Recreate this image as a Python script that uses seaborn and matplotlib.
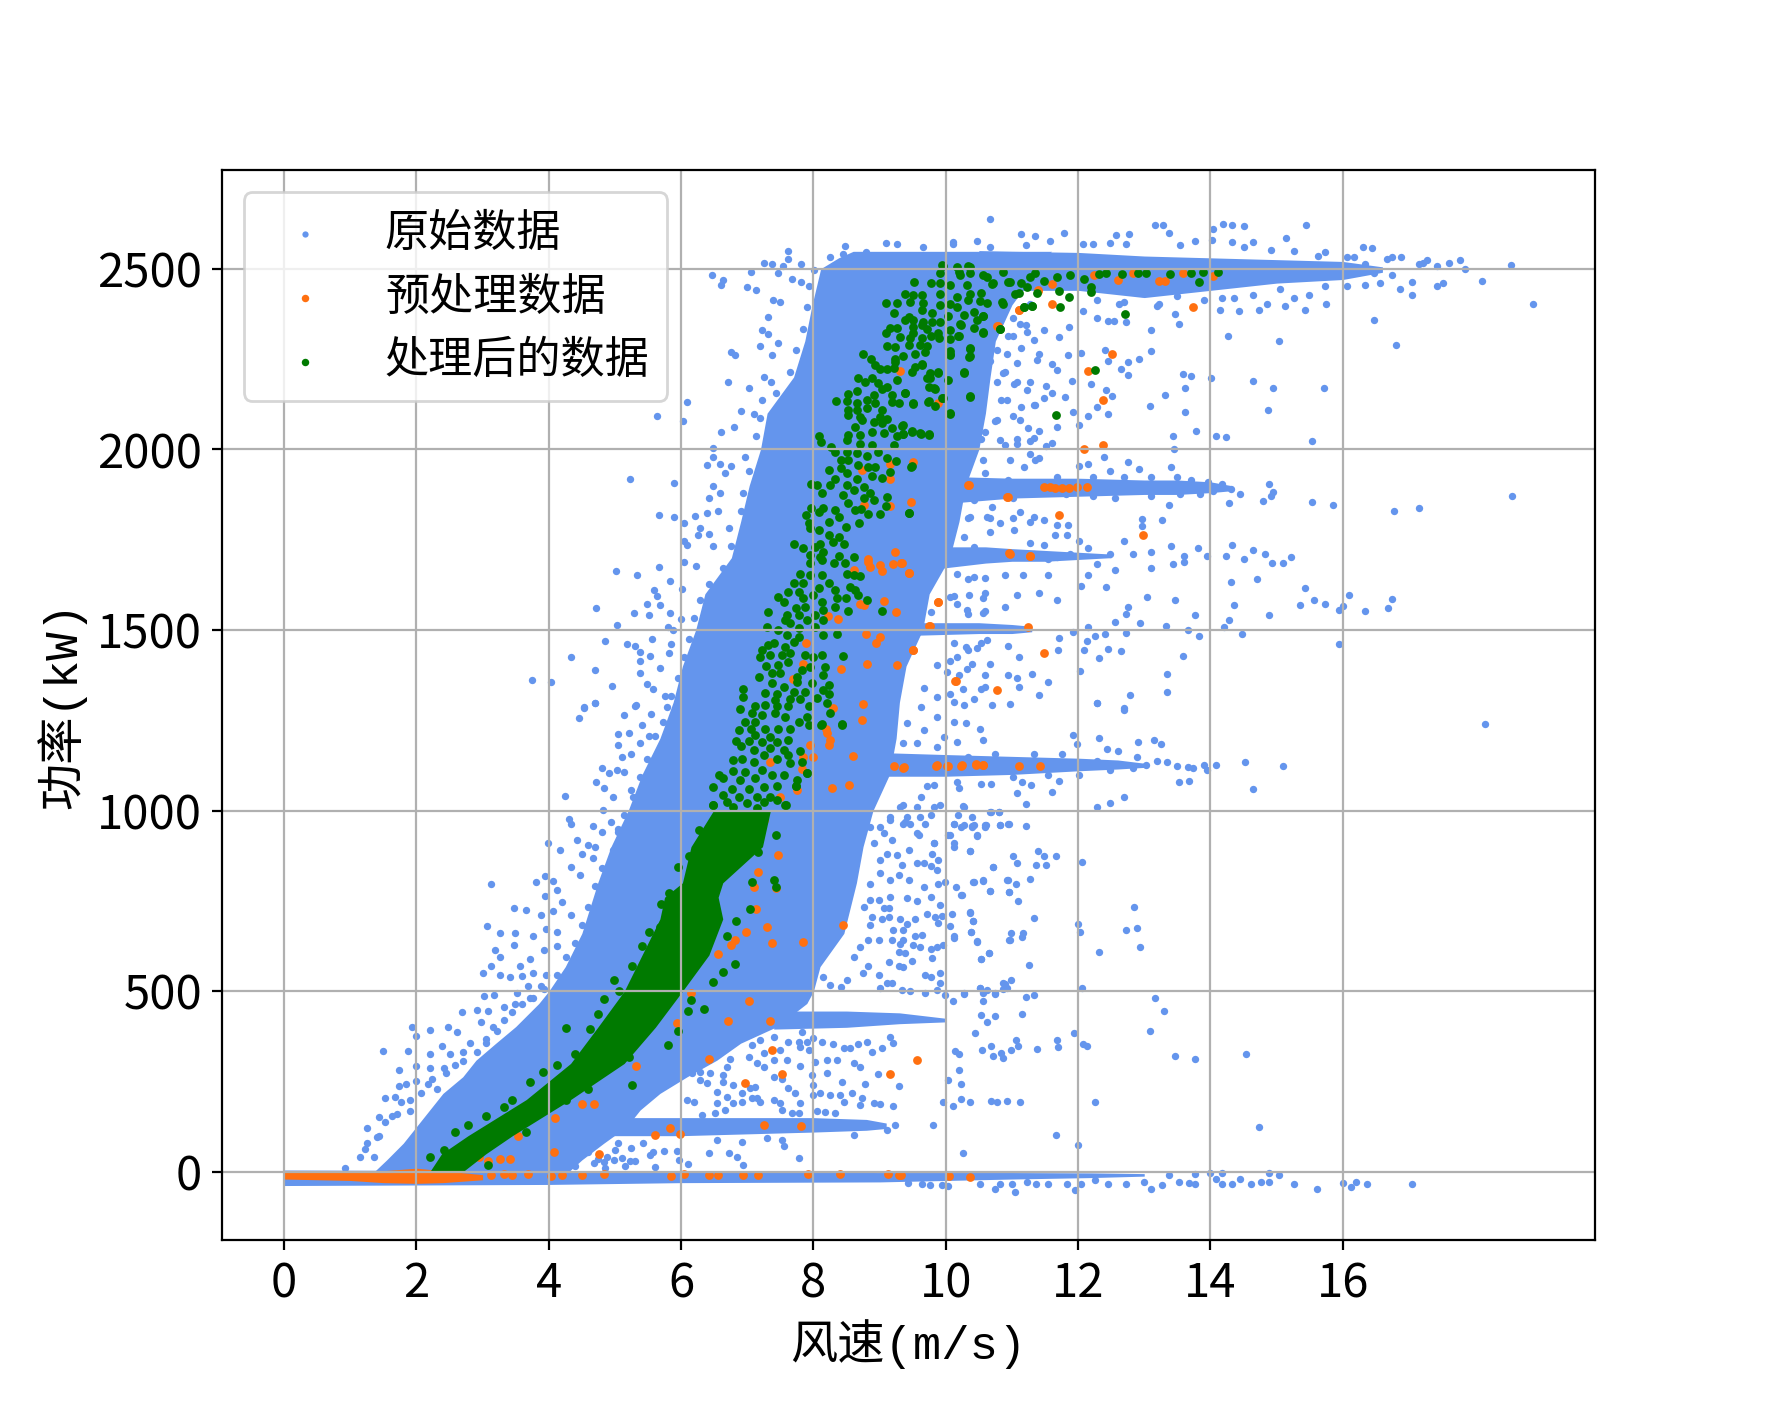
import matplotlib
matplotlib.use('Agg')
import matplotlib.pyplot as plt
import pandas as pd
import seaborn as sns

plt.rcParams['font.family'] = ['Noto Sans CJK SC', 'DejaVu Sans']

# where the cloud is solid single points can't be read, so it is kept as an envelope
core_power = [0, 33, 79, 125, 171, 217, 263, 309, 356, 402, 466, 500, 568, 660, 800, 900, 1000, 1100, 1200, 1300,
              1400, 1500, 1600, 1700, 1800, 1900, 2000, 2100, 2200, 2300, 2400, 2500, 2530, 2548]
core_left = [1.36, 1.55, 1.8, 2.0, 2.2, 2.4, 2.7, 2.9, 3.2, 3.5, 3.85, 4.0, 4.25, 4.5, 4.74, 4.94, 5.2, 5.41, 5.68,
             5.88, 6.02, 6.22, 6.36, 6.76, 6.9, 7.03, 7.2, 7.3, 7.7, 7.87, 7.98, 8.11, 8.38, 8.6]
core_right = [4.3, 4.5, 4.83, 5.18, 5.38, 5.68, 6.09, 6.54, 6.9, 7.45, 7.9, 8.0, 8.1, 8.46, 8.65, 8.75, 8.9, 9.15,
              9.25, 9.3, 9.4, 9.65, 9.75, 10.06, 10.2, 10.3, 10.5, 10.6, 10.67, 10.75, 11.0, 11.4, 11.5, 11.6]

# horizontal stripes: wind, upper power, lower power
rated_wind = [10.5, 11, 12, 13, 14, 15, 16, 16.6]
rated_up = [2550, 2548, 2545, 2535, 2530, 2525, 2520, 2505]
rated_low = [2400, 2440, 2440, 2420, 2440, 2460, 2470, 2490]
zero_wind = [0, 4, 6, 9, 11, 12.2, 13]
zero_up = [5, 3, 0, -2, -2, -3, -5]
zero_low = [-38, -35, -30, -28, -20, -16, -12]
band1890_wind = [10.0, 11, 12, 13, 13.5, 14, 14.3]
band1890_up = [1925, 1920, 1920, 1915, 1915, 1910, 1900]
band1890_low = [1850, 1865, 1870, 1875, 1875, 1880, 1885]
band1700_wind = [9.9, 10.6, 11, 11.5, 12, 12.5]
band1700_up = [1730, 1730, 1725, 1720, 1715, 1710]
band1700_low = [1670, 1685, 1690, 1690, 1695, 1700]
band1500_wind = [9.5, 10.5, 11, 11.3]
band1500_up = [1520, 1520, 1515, 1510]
band1500_low = [1485, 1490, 1490, 1495]
band1130_wind = [9.1, 10, 11, 12, 12.6, 13.05]
band1130_up = [1160, 1155, 1150, 1145, 1140, 1130]
band1130_low = [1095, 1095, 1100, 1110, 1115, 1120]
band420_wind = [7.4, 8.5, 9.3, 10]
band420_up = [445, 445, 440, 425]
band420_low = [395, 400, 410, 415]
band130_wind = [4.9, 6, 7, 8, 8.8, 9.1]
band130_up = [150, 150, 150, 150, 145, 135]
band130_low = [100, 100, 105, 110, 115, 120]

# green band, solid up to about 1000 kW
green_power = [0, 50, 100, 200, 300, 400, 500, 600, 700, 760, 800, 900, 1000]
green_left = [2.2, 2.38, 2.78, 3.66, 4.33, 4.74, 5.14, 5.41, 5.68, 5.75, 6.02, 6.15, 6.49]
green_right = [2.7, 3.05, 3.45, 4.33, 5.14, 5.61, 6.02, 6.42, 6.63, 6.56, 6.63, 7.23, 7.35]
# orange stripe under 0 kW
orange_wind = [0, 1, 1.5, 2, 2.4, 3.0]
orange_up = [0, 0, 3, 10, 3, -8]
orange_low = [-20, -24, -30, -32, -30, -22]

blue_top = [(10.67,2637),(11.14,2596),(11.35,2591),(11.78,2599),(13.16,2620),(13.29,2620),(13.38,2599),(12.58,2593),
    (12.77,2595),(14.04,2609),(14.19,2623),(14.33,2620),(14.51,2617),(15.45,2622),(15.15,2586),(13.76,2577),(14.02,2579),
    (14.33,2573),(14.64,2575),(16.3,2559),(16.44,2556),(16.74,2532),(17.27,2524),(17.77,2524),(17.6,2517),(17.85,2499),
    (18.55,2509),(18.1,2465),(18.87,2401),(16.48,2357),(16.8,2289),(15.03,2300),(14.27,2314),(14.65,2189),(14.95,2171),
    (15.71,2171),(14.87,2109),(13.61,2104),(13.08,2120),(13.32,2151),(13.58,2208),(13.7,2203),(14.01,2196),(13.62,2170),
    (13.43,2038),(13.79,2052),(14.08,2036),(14.24,2035),(15.53,2022),(13.45,2000),(14.89,1904),(14.95,1881),(14.92,1870),
    (14.45,1877),(14.28,1850),(14.79,1857),(15.53,1853),(15.86,1846),(16.77,1828),(17.16,1838),(18.56,1870),(13.38,1845),
    (13.27,1803),(12.96,1807),(12.96,1789),(13.82,1728),(13.95,1706),(14.24,1705),(14.33,1734),(14.51,1696),(14.65,1721),
    (14.82,1711),(14.93,1685),(15.1,1685),(15.22,1701),(14.31,1632),(14.7,1641),(15.43,1617),(15.56,1583),(16.1,1597),
    (15.73,1573),(15.36,1569),(16.0,1566),(15.95,1555),(16.34,1553),(16.69,1561),(16.74,1586),(14.89,1542),(14.35,1568),
    (14.28,1527),(14.2,1507),(14.48,1490),(13.83,1484),(13.66,1500),(13.33,1510),(12.94,1519),(13.77,1541),(13.47,1584),
    (13.04,1591),(12.76,1563),(12.73,1543),(12.56,1521),(15.95,1462),(13.59,1429),(13.35,1378),(13.35,1329),(12.78,1321),
    (12.29,1299),(12.7,1284),(12.03,1387),(12.31,1421),(12.65,1442),(12.46,1448),(12.09,1445),(12.13,1470),(12.72,1491),
    (12.41,1490),(12.26,1484)]
blue_rated_edge = [(11.28,1986),(11.41,1976),(12.02,1954),(12.15,1958),(12.49,1939),(12.76,1965),(12.92,1946),(13.4,1951),
    (12.39,1980),(11.61,2018),(11.51,2008),(11.28,2023),(11.68,2062),(11.41,2052),(11.07,2028),(10.9,2013),(12.02,2067),
    (12.15,2092),(11.92,2102),(12.46,2099),(12.29,2117),(12.52,2148),(12.42,2164),(11.8,2144),(11.49,2141),(11.34,2122),
    (11.14,2117),(11.01,2092),(12.19,2181),(11.91,2188),(11.61,2156),(11.51,2176),(11.28,2186),(11.07,2186),(10.9,2215),
    (11.68,2220),(11.85,2260),(12.05,2267),(11.61,2235),(11.41,2265),(11.14,2280),(12.41,2275),(12.65,2223),(12.76,2207),
    (12.75,2243),(12.92,2250),(12.46,2245),(13.1,2272),(13.1,2329),(11.86,2339),(11.71,2312),(11.48,2329),(11.21,2344),
    (11.01,2314),(12.46,2356),(12.54,2354),(12.73,2351),(13.52,2347),(13.47,2374),(12.62,2403),(12.29,2364),(12.08,2383),
    (13.2,2398),(14.15,2386),(14.44,2383),(14.73,2386),(15.13,2396),(15.43,2386),(15.74,2403),(14.85,2403),(14.35,2418),
    (15.26,2418),(17.04,2428),(16.86,2445),(17.42,2453),(17.52,2460),(17.04,2464),(16.57,2460),(16.34,2455),(16.74,2482),
    (16.24,2492),(16.47,2487),(17.15,2512),(17.42,2507),(16.67,2527),(16.17,2532),(15.73,2546),(15.26,2548),(15.62,2535),
    (14.92,2551),(14.51,2561),(13.54,2566),(12.73,2569),(12.49,2571),(12.22,2569),(12.07,2569),(11.58,2576),(10.47,2576),
    (10.11,2569)]
blue_mid_right = [(10.77,2275),(10.92,2265),(11.08,2238),(10.87,2210),(11.33,2302),(11.23,2325),(11.13,2348),(11.38,2247),
    (11.03,2182),(11.23,2164),(11.35,2122),(11.13,2081),(11.25,2058),(10.92,2136),(10.77,2081),(10.82,2025),(11.08,2016),
    (11.33,2030),(10.57,1970),(10.97,1970),(11.18,1952),(11.35,1970),(10.42,1859),(10.62,1813),(10.82,1795),(10.17,1841),
    (10.37,1813),(11.03,1776),(10.27,1758),(10.42,1730),(10.67,1772),(11.33,1813),(11.13,1827),(12.15,1726),(12.49,1711),
    (12.83,1711),(13.1,1716),(13.4,1731),(12.29,1682),(12.56,1667),(13.1,1672),(13.43,1682),(13.6,1706),(13.6,1687),
    (12.69,1746),(12.02,1746),(11.88,1711),(11.55,1697),(11.68,1702),(11.34,1711),(11.48,1736),(11.28,1741),(10.9,1652),
    (11.17,1652),(11.55,1652),(12.15,1652),(12.05,1622),(12.42,1620),(11.68,1791),(11.85,1791),(11.65,1763),(11.83,1763),
    (11.48,1805),(11.28,1800),(11.01,1810),(10.67,1810),(10.33,1810),(10.33,1642),(10.6,1603),(10.9,1563),(11.07,1598),
    (11.41,1603),(11.68,1583),(10.13,1593),(10.33,1543),(10.6,1553),(10.33,1445),(10.53,1464),(10.94,1455),(11.11,1425),
    (10.4,1405),(10.67,1405),(10.06,1415),(10.2,1375),(10.6,1375),(10.94,1375),(11.07,1366),(11.31,1379),(11.55,1356),
    (10.26,1336),(10.53,1336),(11.11,1341),(11.41,1321),(10.7,1292),(10.97,1294),(10.13,1301),(11.69,1445),(11.71,1479),
    (11.92,1494),(12.15,1509),(10.07,1592),(10.17,1573),(10.32,1555),(10.57,1546),(10.42,1647),(10.6,1643),(10.17,1656),
    (10.35,1596),(10.57,1587),(9.77,1550),(10.12,1463),(10.3,1453),(10.47,1449),(10.62,1472),(10.17,1426),(9.87,1403),
    (10.02,1384),(10.32,1393),(10.6,1343),(10.42,1310),(10.27,1292),(10.07,1324),(9.87,1315),(9.67,1338),(9.62,1287),
    (9.87,1260),(10.12,1246),(10.3,1241),(10.52,1227),(10.57,1195),(10.17,1190),(9.97,1204),(9.67,1223),(9.41,1241),
    (9.56,1186),(9.87,1176),(9.36,1186)]
blue_below_1130 = [(18.15,1239),(15.09,1122),(14.52,1135),(14.08,1127),(14.65,1060),(13.91,1125),(13.95,1113),(13.74,1118),
    (13.66,1120),(13.5,1123),(13.35,1135),(13.19,1137),(13.52,1080),(13.67,1082),(12.7,1038),(12.49,1021),(12.29,1011),
    (13.15,1195),(13.25,1185),(12.9,1191),(12.6,1165),(12.44,1169),(12.32,1201),(11.92,1209),(11.99,1185),(12.7,1279),
    (12.29,1298),(11.21,1019),(11.21,957),(11.61,1050),(11.07,1048),(11.29,1070),(10.69,1073),(11.71,1083),(11.15,1080),
    (10.68,996),(10.8,996),(10.94,964),(10.82,959),(10.61,959),(10.4,957),(10.23,955),(10.48,930),(10.06,931),(10.13,900),
    (10.37,888),(9.82,910),(11.02,874),(11.39,888),(11.48,874),(11.67,873),(11.07,856),(11.36,850),(11.51,850),(12.06,858),
    (10.72,844),(11.28,810),(10.57,806),(10.94,808),(11.06,798),(10.42,802),(10.67,777),(10.95,774),(10.24,767),(11.09,749),
    (12.85,734),(10.37,717),(11.34,702),(10.41,695),(12.0,686),(12.03,663),(12.73,670),(12.89,674),(12.94,622),(12.31,609),
    (10.38,663),(10.99,660),(11.17,661),(10.97,641),(11.16,649),(10.48,637),(10.13,648),(10.65,606),(10.54,590),(11.26,573),
    (10.99,532),(10.9,520),(10.87,505),(10.52,510),(10.63,503),(10.74,491),(10.28,493),(10.11,473),(10.57,474),(11.22,483),
    (11.33,490),(12.06,510),(13.16,482),(13.3,445),(13.08,391),(13.46,321),(13.77,312),(14.54,325),(11.94,384),(12.07,355),
    (12.13,349),(11.68,364),(11.7,345),(11.38,340),(11.09,347),(11.06,364),(10.98,338),(10.84,330),(10.86,315),(10.72,320),
    (10.69,349),(10.55,337),(10.14,335),(10.2,327),(11.16,436),(10.74,431),(10.53,434),(10.63,416),(10.44,385),(10.2,283),
    (10.04,255),(10.23,242),(12.25,192),(14.74,123),(11.67,103),(12.0,75),(10.26,53),(11.12,194),(10.92,195),(10.78,192),
    (10.68,197),(10.36,194),(10.23,201),(10.11,181),(9.96,194),(9.81,129)]
blue_mid_cloud = [(9.11,881),(9.26,877),(9.44,891),(9.34,849),(9.56,854),(9.67,854),(9.77,846),(9.87,835),(9.79,881),(9.89,863),
    (9.82,911),(9.56,937),(9.46,964),(9.69,964),(9.61,983),(9.41,983),(9.77,987),(9.92,1015),(9.56,1011),(9.31,1011),(9.19,918),
    (9.39,969),(9.01,955),(10.12,964),(10.27,960),(10.42,960),(10.6,955),(10.82,960),(10.95,964),(10.67,997),(10.8,997),
    (10.26,1012),(10.19,987),(10.39,981),(10.47,932),(10.04,932),(10.12,909),(10.36,889),(10.71,844),(9.29,821),(9.44,808),
    (9.67,789),(9.89,798),(9.99,803),(10.41,803),(10.56,808),(10.93,809),(10.15,787),(10.23,767),(10.67,778),(10.95,775),
    (9.16,808),(9.01,826),(9.16,761),(9.41,757),(9.56,749),(9.77,760),(9.91,738),(10.09,713),(10.36,718),(10.41,695),(10.38,665),
    (10.07,680),(10.47,638),(10.13,653),(10.95,642),(10.65,606),(10.53,590),(9.96,627),(9.8,591),(9.87,623),(9.64,655),(9.53,654),
    (9.72,713),(9.84,706),(9.94,709),(9.89,688),(9.54,701),(9.41,686),(9.31,699),(9.04,701),(9.15,706),(9.36,669),(9.21,669),
    (9.19,643),(9.31,630),(9.36,643),(8.99,641),(8.88,706),(8.76,734),(8.86,752),(9.06,729),(9.14,729),(9.51,628),(9.61,621),
    (9.78,618),(9.39,606),(9.3,609),(9.14,582),(9.49,583),(9.29,570),(9.36,566),(8.83,570),(8.99,546),(9.69,544),(9.77,538),
    (9.92,551),(9.91,523),(10.52,510),(10.87,522),(10.93,510),(8.75,549),(9.11,522),(9.19,522),(9.01,508),(9.34,503),(9.46,500),
    (9.68,496),(9.87,503),(9.99,489),(10.28,496),(10.56,496),(10.75,494),(8.51,531),(8.41,512),(8.25,517),(8.15,540),(8.61,595),
    (8.71,623),(8.83,641),(8.86,683),(8.99,752),(8.86,798),(9.01,863),(8.91,909),(9.06,937),(9.16,974),(10.17,1080),(9.82,1070),
    (9.62,1038),(9.36,1015),(9.16,983),(9.36,964),(9.59,932),(9.82,1011),(10.12,964),(10.27,1011),(10.4,955),(10.6,960),(8.86,955)]
blue_low_cloud = [(6.74,311),(6.69,289),(7.07,351),(7.2,365),(7.4,374),(7.62,360),(7.8,346),(7.93,337),(7.5,337),(7.25,328),
    (7.02,319),(7.14,300),(7.25,291),(7.4,309),(7.6,309),(7.8,293),(8.03,305),(8.2,309),(8.35,309),(8.61,300),(8.71,289),(8.46,342),
    (8.56,342),(8.88,332),(9.03,344),(9.21,356),(9.16,372),(8.81,360),(8.68,355),(8.13,360),(8.3,355),(7.83,388),(8.0,369),(7.78,360),
    (7.9,360),(8.2,273),(8.0,240),(8.43,249),(8.58,219),(8.78,243),(8.98,272),(9.29,237),(8.91,190),(9.01,188),(9.21,183),(8.73,203),
    (8.71,185),(8.46,194),(8.4,213),(8.25,213),(8.1,219),(7.99,213),(7.8,191),(7.78,164),(7.67,164),(8.33,162),(8.18,166),(8.05,167),
    (7.52,171),(7.4,199),(7.5,190),(7.2,194),(7.07,203),(6.92,194),(6.79,190),(6.67,171),(6.52,162),(6.31,157),(6.19,194),(6.09,199),
    (6.54,190),(6.69,208),(6.79,240),(6.92,217),(7.04,231),(7.12,236),(7.14,203),(7.4,263),(7.52,256),(7.62,231),(7.72,219),(6.64,249),
    (6.54,222),(6.39,245),(6.29,254),(6.16,273),(6.09,296),(6.29,277),(6.44,273),(6.64,268),(7.98,268),(9.24,130),(9.11,115),(8.61,102),
    (7.78,37),(7.55,71),(7.52,88),(7.3,93),(6.94,19),(6.84,40),(6.72,53),(6.92,83),(6.54,88),(6.42,53),(6.11,21),(5.97,34),(5.94,58),
    (5.74,58),(5.61,14),(5.58,56),(5.53,46),(5.31,30),(5.23,30),(5.25,65),(5.43,81),(5.1,37),(4.98,33),(5.05,79),(4.83,28),(4.88,42),
    (4.68,23),(4.55,74),(4.37,51),(4.27,56),(4.4,15),(4.6,55),(4.75,35),(4.85,10),(5.0,60),(5.15,15)]
blue_zero = [(17.04,-34),(16.36,-34),(16.2,-29),(16.13,-41),(16.0,-31),(15.61,-47),(15.26,-34),(15.03,-8),(14.88,-29),(14.77,-28),
    (14.61,-34),(14.45,-21),(14.33,-34),(14.18,-34),(14.88,-2),(14.18,-4),(14.08,-19),(13.99,-4),(13.77,-7),(13.76,-34),(13.67,-31),
    (13.52,-27),(13.37,-9),(13.27,-37),(13.1,-48),(13,-29),(12.73,-34),(12.46,-34),(12.25,-24),(12.05,-34),(11.96,-50),(11.84,-35),
    (11.55,-34),(11.37,-34),(11.23,-29),(11.04,-55),(11.0,-33),(10.82,-34),(10.74,-48),(10.52,-35),(10.03,-39),(9.94,-37),(9.76,-37),
    (9.64,-34),(9.43,-32)]
blue_left_upper = [(6.47,2482),(6.63,2470),(6.61,2455),(7.0,2448),(7.13,2440),(7.06,2492),(7.25,2516),(7.37,2514),(7.62,2548),(7.62,2527),
    (7.54,2507),(7.81,2512),(7.47,2487),(7.67,2472),(7.81,2462),(7.39,2413),(7.5,2408),(7.31,2366),(7.22,2329),(7.31,2319),(7.47,2294),
    (6.76,2270),(6.81,2260),(7.2,2287),(7.37,2260),(6.71,2186),(7.02,2171),(7.25,2201),(7.36,2186),(6.09,2131),(5.64,2093),(6.03,2077),
    (6.9,2107),(7.1,2097),(6.8,2062),(6.61,2049),(6.49,2003),(6.48,1978),(6.39,1957),(6.59,1958),(6.76,1953),(6.66,1934),(5.23,1917),
    (5.89,1907),(6.49,1899),(6.42,1865),(6.59,1880),(5.67,1817),(5.9,1813),(6.05,1795),(6.21,1815),(6.39,1825),(6.29,1781),(6.56,1830),
    (6.05,1746),(6.25,1763),(6.42,1766),(6.09,1736),(6.49,1731),(5.02,1664),(5.33,1652),(5.66,1674),(6.05,1687),(6.22,1677),(5.84,1636),
    (6.02,1613),(5.59,1611),(5.63,1593),(5.48,1573),(5.68,1568),(4.72,1561),(5.29,1547),(5.51,1541),(5.83,1548),(6.0,1529),(5.03,1514),
    (5.8,1509),(5.88,1499),(4.85,1470),(5.56,1474),(5.18,1460),(5.3,1455),(5.85,1460),(4.33,1425),(5.38,1440),(5.53,1427),(5.38,1415),
    (4.7,1390),(5.68,1395),(5.82,1435),(3.74,1361),(4.04,1355),(4.96,1346),(5.38,1380),(5.48,1349),(5.58,1336),(4.53,1287),(4.7,1298),
    (5.32,1292),(5.75,1316)]
blue_left_lower = [(4.45,1256),(4.53,1284),(4.7,1297),(5.14,1264),(5.31,1290),(5.41,1236),(5.55,1266),(5.05,1211),(5.21,1216),(5.05,1182),
    (5.11,1147),(5.24,1157),(5.38,1187),(5.51,1206),(4.8,1118),(4.91,1103),(5.03,1113),(5.14,1108),(4.72,1078),(4.84,1063),(4.97,1038),
    (4.25,1039),(5.24,1058),(4.82,1001),(4.31,977),(4.33,964),(4.67,956),(4.94,969),(4.8,940),(5.04,950),(4.42,918),(3.99,910),(4.6,905),
    (4.5,880),(4.7,900),(4.17,890),(4.67,870),(4.33,843),(4.47,821),(3.13,798),(3.81,803),(3.94,819),(4.06,806),(4.13,781),(3.95,764),
    (4.2,747),(4.06,722),(3.89,712),(3.48,730),(3.66,725),(4.33,712),(3.06,680),(3.27,661),(3.49,660),(3.96,673),(4.13,663),(3.76,653),
    (3.19,614),(3.47,628),(3.93,614),(4.13,624),(3.27,594),(3.72,589),(3.56,569),(3.12,569),(3.0,549),(3.27,544),(3.42,540),(3.59,542),
    (3.76,549),(3.96,544),(3.68,515),(3.89,515),(3.02,487),(3.18,490),(3.52,495),(3.72,480),(2.69,441),(2.91,448),(3.08,446),(3.32,456),
    (3.49,465),(1.94,401),(2.2,393),(2.48,401),(2.61,388),(2.98,416),(3.15,401),(1.99,375),(2.38,347),(2.81,357),(3.05,367),(1.49,335),
    (1.88,335),(2.21,327),(2.51,327),(2.71,307),(1.73,281),(2.0,292),(2.21,288),(2.44,273),(1.73,238),(1.84,243),(2.0,250),(2.17,243),
    (2.31,228),(1.53,204),(1.67,208),(1.77,194),(1.9,169),(1.44,151),(1.63,154),(1.26,120),(1.4,95),(1.23,62),(1.15,41),(0.92,11)]
# points that make the rim of the solid cloud and of the stripes uneven
blue_rim = [(1.36,41),(1.26,80),(1.43,100),(1.53,139),(1.7,159),(1.9,199),(2.07,218),(2.24,258),(2.41,288),(2.58,297),(2.71,332),(2.91,332),
    (3.05,357),(3.22,391),(3.32,421),(3.45,441),(3.59,465),(3.76,480),(3.93,505),(4.13,544),(4.26,594),(4.4,633),(4.5,683),(4.6,732),(4.7,791),
    (4.8,841),(4.97,890),(5.04,940),(5.14,989),(5.28,1038),(5.38,1093),(5.48,1142),(5.61,1207),(5.72,1246),(5.78,1286),(5.85,1316),(5.95,1366),
    (6.05,1425),(6.12,1474),(6.19,1534),(6.29,1583),(6.42,1627),(6.63,1672),(6.76,1731),(6.73,1781),(6.9,1830),(6.93,1879),(7.03,1939),(6.96,1978),
    (7.13,2038),(7.2,2087),(7.23,2136),(7.44,2156),(7.64,2215),(7.74,2275),(7.84,2334),(7.91,2393),(7.94,2453),(8.01,2497),(8.25,2532),(8.45,2541),
    (8.79,2546),(9.09,2571),(8.48,2563),(9.26,2569),(9.66,2561),(10.11,2573),(10.67,2561),(11.21,2566),(12.29,2413),(12.69,2408),(12.96,2433),
    (13.23,2403),(13.5,2423),(13.91,2413),(14.18,2418),(14.65,2428),(15.05,2443),(15.49,2428),(15.73,2453),(16.07,2453),(16.13,2497),(16.34,2512),
    (16.88,2532),(17.21,2517),(16.07,2532),(10.67,2245),(10.77,2186),(10.84,2136),(10.6,2047),(10.53,2028),(10.74,2077),(10.94,2314),(11.01,2364),
    (11.28,2403),(11.68,1924),(12.22,1924),(12.69,1924),(13.1,1924),(13.5,1924),(13.7,1914),(13.97,1909),(14.18,1904),(14.31,1889),(14.04,1884),
    (13.84,1875),(13.54,1875),(13.1,1870),(12.56,1865),(12.22,1870),(11.82,1875),(11.01,1865),(10.7,1840),(10.6,1934),(10.94,1914),(10.33,1147),
    (10.74,1157),(11.34,1157),(11.75,1157),(12.29,1137),(12.89,1147),(13.03,1127),(12.83,1118),(12.49,1113),(12.02,1098),(11.55,1098),(11.01,1093),
    (10.53,1073),(10.2,1063),(9.72,1068)]

orange_points = [(9.31,2216),(11.39,2439),(11.1,2385),(10.77,2341),(9.89,2127),(9.16,1959),(9.5,1966),(8.73,1942),(9.16,1917),(10.34,1901),
    (10.92,1867),(9.47,1854),(8.76,1846),(9.16,1843),(9.23,1716),(8.83,1695),(10.96,1712),(11.27,1706),(8.83,1689),(9.01,1680),(8.85,1675),
    (9.2,1682),(9.32,1684),(9.04,1664),(9.44,1658),(8.61,1666),(9.06,1581),(8.71,1572),(8.76,1569),(9.88,1576),(9.25,1550),(8.37,1530),
    (8.22,1538),(9.75,1511),(8.8,1489),(9,1481),(8.94,1463),(7.89,1463),(9.5,1444),(8.81,1407),(9.26,1402),(8.41,1393),(7.85,1405),(7.69,1363),
    (10.14,1359),(8.75,1294),(8.29,1285),(8.73,1250),(8.19,1227),(8.21,1214),(8.25,1195),(8.24,1181),(7.95,1181),(7.84,1149),(8,1149),(8.6,1151),
    (7.35,1135),(7.83,1114),(9.22,1124),(9.36,1119),(9.86,1124),(10.02,1123),(10.23,1124),(10.45,1129),(10.57,1126),(8.28,1063),(8.54,1072),
    (7.75,1057),(7.5,1038),(7.26,975),(7.46,878),(7.17,831),(7.1,787),(7.44,785),(7.13,727),(8.45,683),(7.3,678),(6.98,663),(6.82,643),(6.76,628),
    (7.37,633),(7.85,635),(6.56,604),(7.03,473),(6.71,418),(7.35,418),(7.37,337),(6.42,312),(5.32,292),(7.52,271),(9.16,271),(6.96,245),(4.51,189),
    (4.68,189),(4.1,149),(7.25,129),(7.82,127),(5.83,122),(5.61,102),(5.99,105),(3.54,100),(4.08,55),(4.76,48),(6.15,495),(5.94,411),(3.08,31),
    (3.27,36),(3.42,36),(2.95,40),(3.69,-7),(4.03,-11),(4.2,-9),(4.5,-9),(4.84,-5),(5.85,-11),(6.05,-7),(6.42,-9),(6.56,-9),(6.93,-9),(7.17,-9),
    (7.92,-7),(8.4,-6),(9.12,-7),(9.29,-9),(3.12,-9),(3.32,-7),(3.45,-9),(9.32,-9),(10.05,-12),(10.36,-15),(11.11,2386),(11.61,2401),(11.61,2458),
    (11.4,2441),(10.79,2342),(12.24,2482),(12.61,2470),(12.83,2487),(13.23,2467),(13.31,2467),(13.58,2487),(13.73,2393),(14.04,2479),(12.51,2265),
    (12.15,2218),(12.37,2136),(12.09,2000),(12.38,2012),(10.35,1901),(11.49,1896),(11.58,1896),(11.65,1894),(11.75,1894),(11.87,1894),(11.98,1897),
    (12.14,1897),(10.94,1867),(11.71,1817),(12.98,1763),(10.97,1711),(11.28,1706),(9.34,1685),(9.45,1657),(9.89,1576),(9.76,1512),(9.5,1445),
    (11.24,1507),(11.48,1435),(10.15,1359),(10.78,1334),(9.37,1120),(9.87,1125),(10.03,1124),(10.24,1125),(10.45,1127),(10.57,1127),(11.1,1124),
    (11.42,1122),(9.57,309)]

green_upper = [(9.95,2510),(10.17,2505),(10.37,2505),(9.92,2487),(10.22,2482),(10.62,2478),(10.87,2491),(11.35,2487),(9.77,2459),(9.92,2459),
    (10.07,2454),(10.32,2454),(10.72,2459),(10.97,2464),(11.23,2450),(9.52,2464),(9.39,2431),(9.51,2427),(9.64,2427),(9.92,2431),(10.17,2422),
    (10.37,2431),(11.05,2431),(9.09,2406),(9.27,2406),(9.46,2408),(9.66,2404),(9.92,2399),(10.17,2395),(10.52,2410),(10.62,2404),(10.85,2408),
    (11.18,2395),(11.3,2397),(9.22,2376),(9.64,2385),(9.79,2376),(10.04,2369),(10.28,2373),(10.42,2381),(10.57,2369),(10.47,2358),(9.44,2367),
    (9.39,2358),(9.51,2358),(9.66,2353),(9.79,2353),(9.92,2353),(10.22,2348),(9.51,2339),(9.16,2337),(9.26,2337),(9.64,2344),(10.06,2330),
    (10.42,2335),(10.56,2323),(10.82,2333),(9.09,2323),(9.51,2321),(9.89,2321),(9.31,2310),(9.46,2307),(9.64,2307),(9.77,2313),(9.9,2307),
    (10.06,2304),(10.18,2313),(9.11,2286),(9.24,2282),(9.44,2288),(9.61,2288),(9.71,2286),(10.06,2273),(10.37,2277),(8.75,2265),(9.54,2265),
    (9.69,2268),(9.36,2259),(9.24,2251),(10.06,2261),(10.35,2256),(8.87,2249),(8.93,2233),(9.01,2221),(9.11,2221),(9.22,2224),(9.24,2242),
    (9.49,2215),(9.54,2227),(9.64,2233),(10.27,2212),(9.88,2212),(9.76,2210),(8.68,2196),(8.88,2196),(8.78,2187),(8.98,2184),(9.26,2191),
    (9.71,2196),(10.04,2193),(9.11,2173),(9.74,2173),(9.84,2168),(8.66,2162),(8.53,2152),(8.91,2150),(9.03,2168),(9.19,2150),(9.39,2156),
    (10.36,2147),(8.34,2134),(8.51,2134),(8.66,2129),(8.81,2136),(8.93,2129),(9.19,2132),(9.3,2127),(9.5,2127),(9.73,2132),(9.84,2120),
    (9.95,2141),(10.06,2099),(8.53,2108),(8.66,2108),(8.81,2113),(9.03,2108),(8.53,2095),(8.71,2090),(9.01,2090),(9.11,2085),(8.91,2076),
    (8.73,2081),(8.63,2062),(9.03,2072),(9.19,2058),(9.34,2064),(9.49,2048),(9.61,2044),(9.74,2040),(9.36,2042),(9.26,2037),(9.06,2044),
    (8.88,2048),(8.71,2039),(8.53,2039),(8.09,2037),(8.12,2021),(8.51,2025),(8.71,2014),(8.88,2013),(9.22,2012),(8.26,2005),(8.33,1993),
    (8.51,1993),(8.66,1989),(8.81,1982),(8.98,1993),(9.11,1975),(8.42,1970),(8.53,1970),(9.25,1967),(9.48,1952),(8.42,1947),(8.68,1956),
    (8.83,1952),(8.93,1952),(8.23,1944),(8.51,1933),(8.66,1919),(8.88,1926),(9.03,1921),(9.16,1938),(8.33,1919),(8.25,1901),(7.96,1903),
    (8.06,1901),(8.51,1901),(8.76,1896),(8.61,1887),(8.13,1878),(8.45,1873),(8.86,1878),(8.91,1861),(9.11,1867),(8.77,1866),(8.53,1850),
    (8.15,1838),(7.96,1838),(8.08,1827),(8.33,1832),(8.63,1832),(8.72,1836),(9.09,1843),(8.83,1822),(9.01,1822),(9.45,1825),(7.89,1818),
    (7.93,1795),(8.23,1799),(8.38,1813),(8.5,1786),(8.69,1795),(8.08,1776),(7.95,1781),(8.23,1762),(8.38,1758),(8.1,1739),(7.71,1738),
    (7.85,1728),(8.46,1737),(8.3,1744),(8.03,1730),(8.15,1716),(7.95,1707),(8.1,1703),(8.39,1706),(8.61,1701)]
green_lower = [(7.95,1684),(8.13,1693),(8.31,1684),(8.47,1686),(7.8,1656),(8.13,1652),(8.51,1656),(8.61,1652),(8.71,1649),(7.95,1652),(7.7,1629),
    (7.85,1629),(8.23,1631),(8.08,1615),(8.56,1620),(7.62,1606),(7.78,1606),(8.33,1610),(8.63,1610),(8.68,1596),(7.47,1590),(7.55,1578),(7.85,1587),
    (8,1596),(8.13,1578),(8.36,1587),(8.49,1587),(8.81,1583),(7.32,1550),(7.73,1560),(7.88,1564),(8.15,1555),(8.33,1564),(8.53,1553),(9.04,1553),
    (7.6,1541),(7.78,1541),(8.03,1541),(7.57,1527),(7.9,1527),(8.15,1527),(7.3,1509),(7.65,1518),(7.47,1500),(7.78,1504),(8.03,1509),(7.6,1486),
    (7.78,1481),(8.15,1486),(8.36,1489),(7.7,1467),(7.4,1463),(7.32,1458),(7.57,1453),(7.88,1430),(7.22,1444),(7.2,1426),(7.35,1430),(7.52,1430),
    (7.65,1435),(8,1426),(8.13,1430),(8.44,1428),(7.29,1400),(7.47,1403),(7.62,1412),(7.83,1389),(7.95,1398),(8.18,1398),(7.18,1369),(7.37,1380),
    (7.5,1380),(7.75,1370),(8.15,1375),(7.37,1352),(7.55,1343),(7.75,1357),(7.98,1352),(8.23,1347),(6.94,1336),(6.94,1315),(7.27,1326),(7.45,1324),
    (7.7,1329),(7.88,1329),(8.15,1334),(8.23,1324),(8.05,1312),(7.42,1306),(7.65,1308),(7.8,1308),(8.21,1299),(7.12,1290),(7.27,1292),(7.45,1289),
    (7.62,1289),(7.93,1289),(6.89,1280),(8.25,1271),(7.07,1269),(7.22,1264),(7.42,1269),(7.57,1260),(7.9,1260),(6.97,1246),(7.12,1246),(7.78,1246),
    (7.93,1237),(8.13,1239),(8.43,1239),(7.05,1227),(7.27,1227),(7.47,1227),(6.88,1223),(7.65,1226),(7.12,1209),(7.35,1204),(6.83,1193),(7.02,1192),
    (7.22,1191),(7.45,1191),(7.62,1195),(6.9,1178),(7.1,1167),(7.35,1172),(7.55,1167),(7.8,1165),(7.25,1154),(7.62,1154),(6.92,1144),(6.79,1140),
    (7.1,1135),(7.45,1144),(7.83,1135),(7.65,1132),(6.79,1110),(6.97,1107),(7.22,1112),(7.9,1103),(6.57,1098),(6.64,1089),(6.89,1084),(7.12,1089),
    (7.37,1098),(7.55,1098),(7.75,1084),(6.48,1066),(6.77,1061),(7.02,1061),(7.25,1066),(7.45,1068),(7.73,1068),(6.64,1043),(6.87,1038),(7.15,1038),
    (7.35,1038),(6.69,1024),(7,1020),(7.25,1024),(7.58,1014),(6.49,1014),(7.45,1029),(6.79,1011),(7.15,1006)]
green_rated = [(11.19,2395),(11.3,2397),(11.73,2395),(12.71,2374),(12.25,2220),(11.67,2094),(10.82,2332),(10.36,2146),(10.06,2100),(9.49,1954),
    (13.39,2484),(13.7,2487),(13.89,2492),(14.12,2490),(13.83,2462),(12.91,2487),(13.03,2487),(12.67,2484),(12.42,2487),(12.32,2484),(12.09,2472),
    (12.2,2448),(12.2,2435),(11.86,2421),(11.71,2438),(11.88,2482),(11.68,2477),(11.48,2467),(11.28,2477),(11.14,2460),(11.38,2433),(11.11,2433),
    (10.94,2462),(10.87,2403),(10.7,2458),(10.57,2482),(10.36,2487),(10.2,2492),(9.96,2507),(10.33,2507),(10.53,2433),(10.33,2413),(10.06,2403),
    (10.57,2369),(10.23,2344),(10.57,2324),(10.2,2314),(9.72,2334),(10.36,2280),(10.36,2257),(10.06,2265),(10.28,2213),(9.88,2213),(9.64,2235),
    (9.76,2196),(9.82,2171),(9.39,2156),(9.51,2124),(9.74,2133),(9.96,2141),(9.35,2067),(9.49,2052),(9.62,2042),(9.74,2041),(9.35,2041),(9.45,1825)]
green_rim = [(2.21,41),(2.41,60),(2.59,110),(2.78,129),(3.05,154),(3.32,179),(3.45,199),(3.72,248),(3.91,275),(4.13,297),(4.4,327),(4.62,396),(4.26,398),
    (4.84,477),(4.74,436),(5.06,500),(4.99,532),(5.26,569),(5.41,624),(5.51,663),(5.68,678),(5.7,742),(5.82,772),(5.96,844),(6.12,875),(6.27,945),(6.49,1014),
    (3.08,18),(3.66,110),(4.26,199),(4.6,228),(5.26,240),(5.21,317),(5.8,352),(5.95,391),(6.1,446),(6.34,451),(6.15,475),(6.48,525),(6.63,554),(6.81,576),
    (6.69,653),(7.04,727),(6.83,693),(7.4,809),(7.44,787),(7.07,801),(7.44,932),(7.17,885),(7.57,1014),(8.43,1238),(8.12,1238),(7.74,1068),(7.91,1103)]

blue_points = (blue_top + blue_rated_edge + blue_mid_right + blue_below_1130 + blue_mid_cloud + blue_low_cloud
               + blue_zero + blue_left_upper + blue_left_lower + blue_rim)
green_points = green_upper + green_lower + green_rated + green_rim
raw = pd.DataFrame(blue_points, columns=['wind', 'power'])
pre = pd.DataFrame(orange_points, columns=['wind', 'power'])
done = pd.DataFrame(green_points, columns=['wind', 'power'])

blue = '#6495ed'
orange = '#ff7010'
green = '#007a00'
label_font = ['Liberation Mono', 'Noto Sans CJK SC']

fig, ax = plt.subplots(figsize=(8.86, 7.085), dpi=200)
fig.subplots_adjust(left=0.125, right=0.9, top=0.88, bottom=0.1246)

ax.fill_betweenx(core_power, core_left, core_right, color=blue, lw=0)
for w, up, low in [(rated_wind, rated_up, rated_low), (zero_wind, zero_up, zero_low),
                   (band1890_wind, band1890_up, band1890_low), (band1700_wind, band1700_up, band1700_low),
                   (band1500_wind, band1500_up, band1500_low), (band1130_wind, band1130_up, band1130_low),
                   (band420_wind, band420_up, band420_low), (band130_wind, band130_up, band130_low)]:
    ax.fill_between(w, low, up, color=blue, lw=0)
sns.scatterplot(data=raw, x='wind', y='power', color=blue, s=7, linewidth=0, label='原始数据', ax=ax)

ax.fill_between(orange_wind, orange_low, orange_up, color=orange, lw=0)
sns.scatterplot(data=pre, x='wind', y='power', color=orange, s=10, linewidth=0, label='预处理数据', ax=ax)

ax.fill_betweenx(green_power, green_left, green_right, color=green, lw=0)
sns.scatterplot(data=done, x='wind', y='power', color=green, s=10, linewidth=0, label='处理后的数据', ax=ax)

ax.set_xlim(-0.946, 19.81)
ax.set_ylim(-190, 2773)
ax.set_xticks(range(0, 17, 2))
ax.set_yticks(range(0, 2501, 500))
ax.tick_params(labelsize=17)
ax.grid(True)
ax.set_xlabel('风速(m/s)', fontsize=17, family=label_font)
ax.set_ylabel('功率(kW)', fontsize=17, family=label_font)
ax.legend(loc='upper left', fontsize=15.9, labelspacing=0.4, markerscale=0.85)

fig.savefig('out.png', dpi=200)
